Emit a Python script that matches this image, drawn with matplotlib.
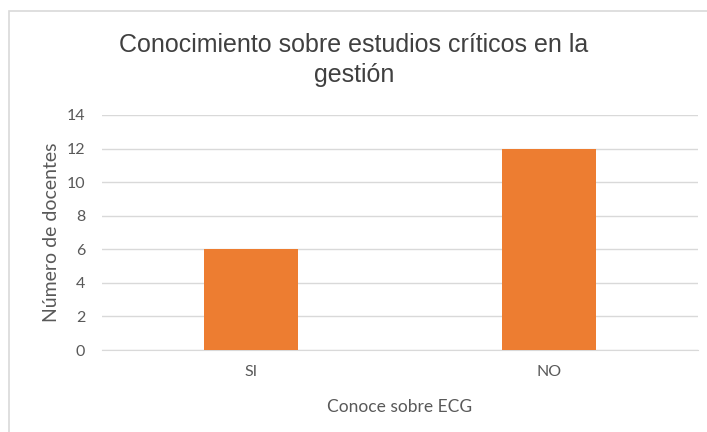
import matplotlib.pyplot as plt
from matplotlib.patches import Rectangle

categorias = ['SI', 'NO']
docentes = [6, 12]
ticks_y = [0, 2, 4, 6, 8, 10, 12, 14]

W, H = 707, 432
fig = plt.figure(figsize=(W / 100, H / 100), dpi=100)

# marco gris del grafico
fig.patches.append(Rectangle((9 / W, -0.05), 1.1, 1 - 11 / H + 0.05, transform=fig.transFigure,
                             fill=False, edgecolor='#d9d9d9', linewidth=1.2))

ax = fig.add_axes([102 / W, 1 - 350 / H, 596 / W, 235 / H])
x = range(len(categorias))
ax.bar(x, docentes, width=0.315, color='#ED7D31', zorder=3)
ax.set_xlim(-0.5, 1.5)
ax.set_ylim(0, 14)
ax.set_yticks(ticks_y)
ax.set_xticks(list(x))
ax.set_xticklabels(categorias)
ax.grid(axis='y', color='#d9d9d9', linewidth=1, zorder=0)
for s in ['top', 'right', 'left']:
    ax.spines[s].set_visible(False)
ax.spines['bottom'].set_color('#d9d9d9')
ax.tick_params(length=0, labelsize=11.5, colors='#595959', pad=12)
ax.tick_params(axis='x', pad=11)
for lbl in ax.get_xticklabels() + ax.get_yticklabels():
    lbl.set_family('Lato')

ax.set_ylabel('Número de docentes', fontsize=14, color='#595959', family='Lato', labelpad=5)
ax.set_xlabel('Conoce sobre ECG', fontsize=12.5, color='#595959', family='Lato', labelpad=14)

fig.text(354 / W, 1 - 60 / H, 'Conocimiento sobre estudios críticos en la\ngestión',
         ha='center', va='center', fontsize=18, color='#404040', family='Liberation Sans',
         linespacing=1.35)

fig.savefig('out.png', dpi=100)
